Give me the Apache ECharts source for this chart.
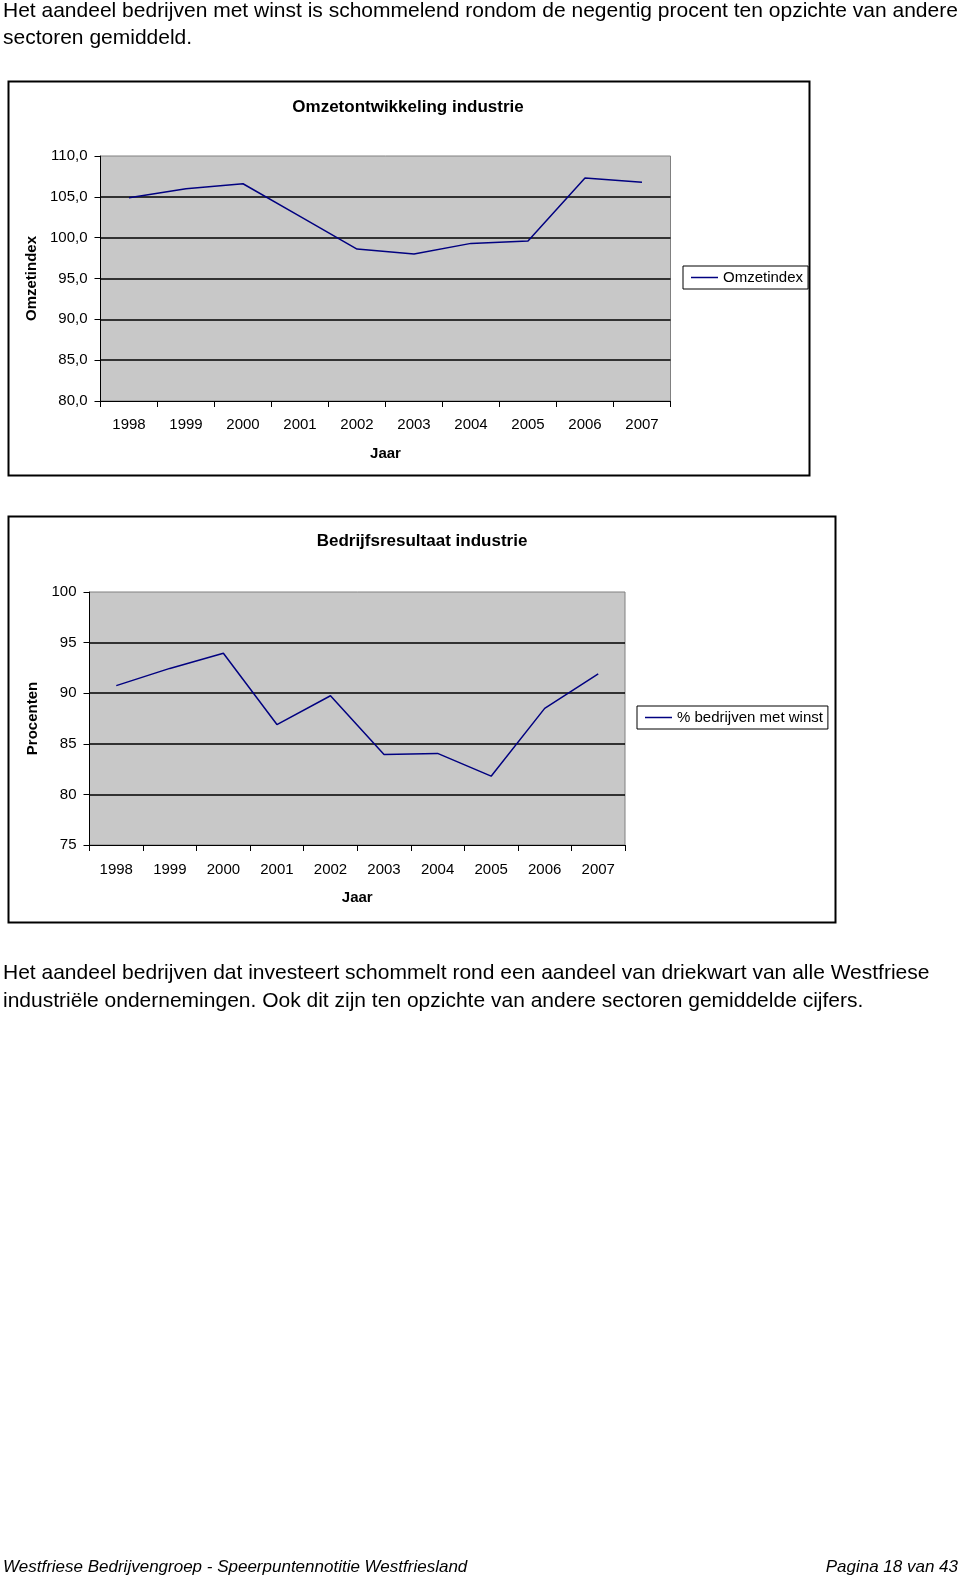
<!DOCTYPE html>
<html><head><meta charset="utf-8">
<script src="https://cdn.jsdelivr.net/npm/echarts@6/dist/echarts.min.js"></script>
<style>html,body{margin:0;padding:0;background:#fff}#c{width:960px;height:1576px}</style>
</head><body><div id="c"></div>
<script>
const years = ['1998','1999','2000','2001','2002','2003','2004','2005','2006','2007'];
const omzetindex = [104.9, 106.0, 106.6, 102.6, 98.6, 98.0, 99.3, 99.6, 107.3, 106.8];
const winst = [90.75, 92.45, 93.95, 86.9, 89.75, 83.95, 84.05, 81.8, 88.5, 91.9];
const title1 = 'Omzetontwikkeling industrie';
const title2 = 'Bedrijfsresultaat industrie';
const para1 = ['Het aandeel bedrijven met winst is schommelend rondom de negentig procent ten opzichte van andere', 'sectoren gemiddeld.'];
const para2 = ['Het aandeel bedrijven dat investeert schommelt rond een aandeel van driekwart van alle Westfriese', 'industriële ondernemingen. Ook dit zijn ten opzichte van andere sectoren gemiddelde cijfers.'];
const footerLeft = 'Westfriese Bedrijvengroep - Speerpuntennotitie Westfriesland';
const footerRight = 'Pagina 18 van 43';

const F = '"Liberation Sans", Arial, sans-serif';
const chart = echarts.init(document.getElementById('c'), null, {renderer:'canvas'});

function xAx(gi){
  return {
    type:'category', gridIndex:gi, data: years, boundaryGap:true,
    name:'Jaar', nameLocation:'middle', nameGap: 45,
    nameTextStyle:{fontFamily:F, fontSize:15, fontWeight:'bold', color:'#000'},
    axisLine:{lineStyle:{color:'#000', width:1}},
    axisTick:{show:true, length:6, lineStyle:{color:'#000'}},
    axisLabel:{fontFamily:F, fontSize:15, color:'#000', margin: gi===0?16:17}
  };
}
function yAx(gi, min, max, fmt, name, gap){
  return {
    type:'value', gridIndex:gi, min:min, max:max, interval:5,
    name:name, nameLocation:'middle', nameRotate:90, nameGap:gap,
    nameTextStyle:{fontFamily:F, fontSize:15, fontWeight:'bold', color:'#000'},
    axisLine:{show:true, lineStyle:{color:'#000', width:1}},
    axisTick:{show:true, length:6, lineStyle:{color:'#000'}},
    axisLabel:{fontFamily:F, fontSize:15, color:'#000', margin:13, formatter:fmt},
    splitLine:{show:true, showMinLine:false, showMaxLine:false, lineStyle:{color:'#000', width:1.5}}
  };
}
const texts = [];
para1.forEach((t,i)=>texts.push({type:'text', left:3, top:1+i*27, style:{text:t, font:'21px '+F, fill:'#000'}}));
para2.forEach((t,i)=>texts.push({type:'text', left:3, top:963+i*28, style:{text:t, font:'21px '+F, fill:'#000'}}));
texts.push({type:'text', left:3, top:1559, style:{text:footerLeft, font:'italic 17px '+F, fill:'#000'}});
texts.push({type:'text', right:2, top:1559, style:{text:footerRight, font:'italic 17px '+F, fill:'#000'}});
texts.push({type:'text', x:408, y:107, style:{text:title1, font:'bold 17px '+F, fill:'#000', align:'center', verticalAlign:'middle'}});
texts.push({type:'text', x:422, y:541, style:{text:title2, font:'bold 17px '+F, fill:'#000', align:'center', verticalAlign:'middle'}});

const legendBase = {orient:'vertical', padding:[4,5,4,8], itemWidth:27, itemHeight:1.5, icon:'rect',
  borderColor:'#000', borderWidth:1, textStyle:{fontFamily:F, fontSize:15, color:'#000'}};

chart.setOption({
  animation:false,
  backgroundColor:'#fff',
  legend:[
    Object.assign({data:['Omzetindex'], left:683, top:266}, legendBase),
    Object.assign({data:['% bedrijven met winst'], left:637, top:706}, legendBase)
  ],
  grid:[
    {left:100.5, top:156, width:570, height:245, show:true, backgroundColor:'#c8c8c8', borderColor:'#808080', borderWidth:1, containLabel:false},
    {left:89.5, top:592, width:535.5, height:253, show:true, backgroundColor:'#c8c8c8', borderColor:'#808080', borderWidth:1, containLabel:false}
  ],
  xAxis:[xAx(0), xAx(1)],
  yAxis:[
    yAx(0, 80, 110, v=>v.toFixed(1).replace('.', ','), 'Omzetindex', 57),
    yAx(1, 75, 100, v=>String(v), 'Procenten', 46)
  ],
  series:[
    {name:'Omzetindex', type:'line', xAxisIndex:0, yAxisIndex:0, data:omzetindex, symbol:'none',
     lineStyle:{color:'#000080', width:1.5}, itemStyle:{color:'#000080'}},
    {name:'% bedrijven met winst', type:'line', xAxisIndex:1, yAxisIndex:1, data:winst, symbol:'none',
     lineStyle:{color:'#000080', width:1.5}, itemStyle:{color:'#000080'}}
  ],
  graphic:[
    {type:'rect', shape:{x:8.5, y:81.5, width:801, height:394}, style:{fill:null, stroke:'#000', lineWidth:2}, z:-1},
    {type:'rect', shape:{x:8.5, y:516.5, width:827, height:406}, style:{fill:null, stroke:'#000', lineWidth:2}, z:-1}
  ].concat(texts)
});
</script></body></html>
